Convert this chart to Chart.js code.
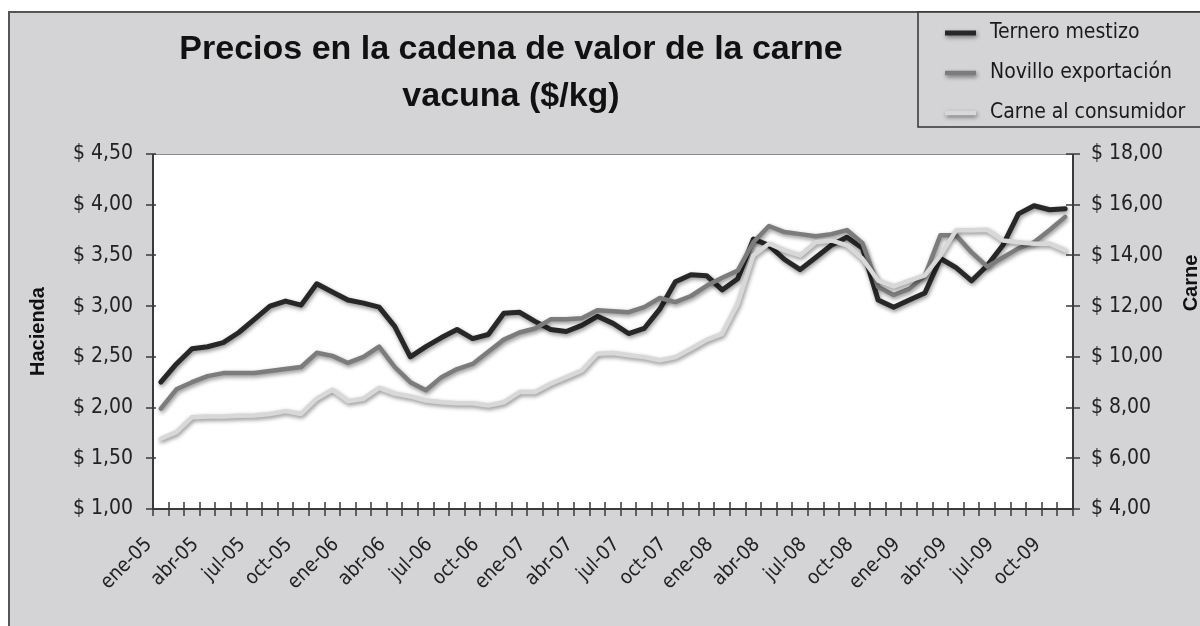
<!DOCTYPE html>
<html>
<head>
<meta charset="UTF-8">
<title>Precios en la cadena de valor de la carne vacuna</title>
<style>
  body { margin: 0; background: #fff; }
  canvas { display: block; }
</style>
</head>
<body>
<canvas id="precios" width="1200" height="626"></canvas>

<script src="https://cdn.jsdelivr.net/npm/chart.js@4.4.1/dist/chart.umd.min.js"></script>

<script>
  // meses ene-05 .. nov-09
  var meses = ['ene', 'feb', 'mar', 'abr', 'may', 'jun', 'jul', 'ago', 'sep', 'oct', 'nov', 'dic'];
  var anios = ['05', '06', '07', '08', '09'];
  var etiquetas = [];
  for (var a = 0; a < anios.length; a++) {
    for (var m = 0; m < meses.length; m++) {
      etiquetas.push(meses[m] + '-' + anios[a]);
    }
  }
  etiquetas = etiquetas.slice(0, 59);

  // $/kg, eje Hacienda
  var ternero = [
    2.25, 2.43, 2.58, 2.60, 2.64, 2.74, 2.87, 3.00, 3.05, 3.01, 3.22, 3.14,
    3.06, 3.03, 2.99, 2.80, 2.50, 2.60, 2.69, 2.77, 2.68, 2.72, 2.93, 2.94,
    2.85, 2.77, 2.75, 2.81, 2.90, 2.83, 2.73, 2.78, 2.97, 3.24, 3.31, 3.30,
    3.16, 3.27, 3.66, 3.60, 3.46, 3.36, 3.48, 3.60, 3.68, 3.57, 3.06, 2.99,
    3.06, 3.13, 3.47, 3.38, 3.25, 3.40, 3.60, 3.91, 3.99, 3.95, 3.96
  ];
  var novillo = [
    1.99, 2.18, 2.25, 2.31, 2.34, 2.34, 2.34, 2.36, 2.38, 2.40, 2.54, 2.51,
    2.44, 2.50, 2.60, 2.40, 2.25, 2.17, 2.30, 2.38, 2.43, 2.55, 2.67, 2.74,
    2.78, 2.87, 2.87, 2.88, 2.96, 2.95, 2.94, 2.99, 3.08, 3.04, 3.10, 3.20,
    3.28, 3.35, 3.63, 3.79, 3.73, 3.71, 3.69, 3.71, 3.75, 3.62, 3.19, 3.11,
    3.17, 3.30, 3.70, 3.70, 3.53, 3.39, 3.48, 3.57, 3.63, 3.75, 3.88
  ];
  // $/kg, eje Carne
  var carne = [
    6.77, 7.03, 7.62, 7.65, 7.65, 7.68, 7.69, 7.75, 7.86, 7.75, 8.35, 8.70,
    8.25, 8.35, 8.78, 8.55, 8.44, 8.28, 8.21, 8.17, 8.17, 8.08, 8.21, 8.61,
    8.61, 8.94, 9.20, 9.46, 10.12, 10.15, 10.06, 9.99, 9.86, 9.99, 10.32, 10.67,
    10.91, 12.10, 14.00, 14.46, 14.20, 14.00, 14.52, 14.59, 14.40, 13.87, 13.01, 12.78,
    13.01, 13.21, 14.00, 14.99, 14.99, 15.01, 14.59, 14.52, 14.46, 14.46, 14.20
  ];

  var titulo = ['Precios en la cadena de valor de la carne', 'vacuna ($/kg)'];

  var NARROW = "'Liberation Sans Narrow', 'Arial Narrow', 'DejaVu Sans Condensed', sans-serif";
  var SANS = "'Liberation Sans', Arial, sans-serif";
  var FONDO = '#d4d4d6';

  var pesos = function(v) {
    return '$ ' + Number(v).toFixed(2).replace('.', ',');
  };

  var setShadow = function(ctx) {
    ctx.shadowColor = 'rgba(0,0,0,0.45)';
    ctx.shadowBlur = 4;
    ctx.shadowOffsetX = 1;
    ctx.shadowOffsetY = 2;
  };

  // fondo gris, marco y area blanca
  var fondoPlugin = {
    id: 'fondo',
    beforeDraw: function(chart) {
      var ctx = chart.ctx, a = chart.chartArea;
      ctx.save();
      ctx.fillStyle = '#fff';
      ctx.fillRect(0, 0, chart.width, chart.height);
      ctx.fillStyle = FONDO;
      ctx.fillRect(8, 11, chart.width - 8, chart.height - 11);
      ctx.strokeStyle = '#555';
      ctx.lineWidth = 2;
      ctx.strokeRect(9, 12, chart.width + 10, chart.height + 10);
      ctx.fillStyle = '#fff';
      ctx.fillRect(a.left, a.top, a.right - a.left, a.bottom - a.top);
      ctx.restore();
    }
  };

  var sombraPlugin = {
    id: 'sombra',
    beforeDatasetDraw: function(chart) {
      chart.ctx.save();
      setShadow(chart.ctx);
    },
    afterDatasetDraw: function(chart) {
      chart.ctx.restore();
    }
  };

  // ejes, marcas, titulo y leyenda
  var marcoPlugin = {
    id: 'marco',
    afterDraw: function(chart) {
      var ctx = chart.ctx, a = chart.chartArea;
      var y = chart.scales.y, y1 = chart.scales.y1;
      ctx.save();
      ctx.strokeStyle = '#8a8a8a';
      ctx.lineWidth = 1;
      ctx.beginPath();
      ctx.moveTo(a.left, a.top + 0.5);
      ctx.lineTo(a.right, a.top + 0.5);
      ctx.stroke();

      ctx.strokeStyle = '#3a3a3a';
      ctx.lineWidth = 2;
      ctx.beginPath();
      ctx.moveTo(a.left, a.top);
      ctx.lineTo(a.left, a.bottom);
      ctx.lineTo(a.right, a.bottom);
      ctx.lineTo(a.right, a.top);
      ctx.stroke();

      ctx.lineWidth = 1.5;
      ctx.beginPath();
      var paso = (a.right - a.left) / etiquetas.length;
      for (var i = 0; i <= etiquetas.length; i++) {
        var px = Math.round(a.left + i * paso);
        ctx.moveTo(px, a.bottom - 7);
        ctx.lineTo(px, a.bottom + 7);
      }
      y.ticks.forEach(function(t) {
        var py = Math.round(y.getPixelForValue(t.value));
        ctx.moveTo(a.left - 7, py);
        ctx.lineTo(a.left + 3, py);
      });
      y1.ticks.forEach(function(t) {
        var py = Math.round(y1.getPixelForValue(t.value));
        ctx.moveTo(a.right - 7, py);
        ctx.lineTo(a.right + 7, py);
      });
      ctx.stroke();

      // titulo del eje derecho
      ctx.save();
      ctx.translate(1191, 283);
      ctx.rotate(-Math.PI / 2);
      ctx.fillStyle = '#111';
      ctx.font = 'bold 20px ' + SANS;
      ctx.textAlign = 'center';
      ctx.textBaseline = 'middle';
      ctx.fillText('Carne', 0, 0);
      ctx.restore();

      // titulo
      ctx.fillStyle = '#111';
      ctx.font = 'bold 34px ' + SANS;
      ctx.textAlign = 'center';
      ctx.textBaseline = 'middle';
      ctx.fillText(titulo[0], 511, 50);
      ctx.fillText(titulo[1], 511, 97);

      // leyenda
      ctx.fillStyle = FONDO;
      ctx.fillRect(918, 12, 290, 115);
      ctx.strokeStyle = '#333';
      ctx.lineWidth = 1.5;
      ctx.strokeRect(918, 12, 300, 115);
      var filas = [33, 73, 113];
      chart.data.datasets.forEach(function(ds, k) {
        ctx.save();
        setShadow(ctx);
        ctx.strokeStyle = ds.borderColor;
        ctx.lineWidth = ds.borderWidth;
        ctx.beginPath();
        ctx.moveTo(945, filas[k]);
        ctx.lineTo(976, filas[k]);
        ctx.stroke();
        ctx.restore();
        ctx.fillStyle = '#1a1a1a';
        ctx.font = '21px ' + NARROW;
        ctx.textAlign = 'left';
        ctx.fillText(ds.label, 990, filas[k]);
      });
      ctx.restore();
    }
  };

  var ctx = document.getElementById('precios');

  var chart = new Chart(ctx, {
    type: 'line',
    data: {
      labels: etiquetas,
      datasets: [
        { label: 'Ternero mestizo', data: ternero, yAxisID: 'y', borderColor: '#272727', borderWidth: 5, order: 3 },
        { label: 'Novillo exportación', data: novillo, yAxisID: 'y', borderColor: '#7c7c7c', borderWidth: 4.5, order: 2 },
        { label: 'Carne al consumidor', data: carne, yAxisID: 'y1', borderColor: '#d8d8d8', borderWidth: 4.5, order: 1 }
      ]
    },
    options: {
      responsive: false,
      animation: false,
      devicePixelRatio: 1,
      elements: {
        point: { radius: 0 },
        line: { tension: 0, borderJoinStyle: 'round', borderCapStyle: 'round' }
      },
      layout: { padding: { top: 154, left: 0, right: 0, bottom: 0 } },
      plugins: {
        legend: { display: false },
        title: { display: false },
        tooltip: { enabled: false }
      },
      scales: {
        x: {
          type: 'category',
          offset: true,
          grid: { display: false, drawTicks: false },
          border: { display: false },
          ticks: {
            autoSkip: false,
            maxRotation: 45,
            minRotation: 45,
            padding: 24,
            labelOffset: -12,
            color: '#222',
            font: { family: NARROW, size: 20 },
            callback: function(v, i) { return i % 3 === 0 ? etiquetas[i] : ''; }
          },
          afterFit: function(s) { s.height = 117; }
        },
        y: {
          position: 'left',
          min: 1,
          max: 4.5,
          grid: { display: false, drawTicks: false },
          border: { display: false },
          ticks: {
            stepSize: 0.5,
            padding: 20,
            color: '#222',
            font: { family: NARROW, size: 21 },
            callback: function(v) { return pesos(v); }
          },
          title: {
            display: true,
            text: 'Hacienda',
            color: '#111',
            font: { family: SANS, size: 20, weight: 'bold' },
            padding: { top: 26, bottom: 0 }
          },
          afterFit: function(s) { s.width = 153; }
        },
        y1: {
          position: 'right',
          min: 4,
          max: 18,
          grid: { display: false, drawTicks: false },
          border: { display: false },
          ticks: {
            stepSize: 2,
            padding: 18,
            color: '#222',
            font: { family: NARROW, size: 21 },
            callback: function(v) { return pesos(v); }
          },
          afterFit: function(s) { s.width = 127; }
        }
      }
    },
    plugins: [fondoPlugin, sombraPlugin, marcoPlugin]
  });
</script>
</body>
</html>
